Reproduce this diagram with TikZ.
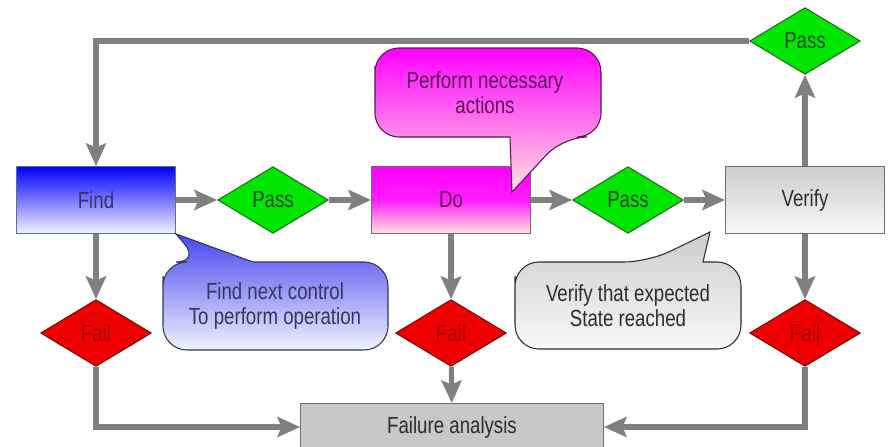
\documentclass[tikz,border=0pt]{standalone}
\usepackage{fontspec}
\setmainfont{Liberation Sans}[FakeStretch=0.8]
\usetikzlibrary{shapes.geometric,arrows.meta}
\definecolor{arrgray}{RGB}{128,128,128}
\definecolor{boxblue}{RGB}{0,0,255}
\definecolor{callblue}{RGB}{70,70,240}
\definecolor{paleblue}{RGB}{242,242,255}
\definecolor{txtblue}{RGB}{50,55,90}
\definecolor{mag}{RGB}{255,0,255}
\definecolor{palepink}{RGB}{255,228,220}
\definecolor{txtmag}{RGB}{90,20,90}
\definecolor{passgreen}{RGB}{0,230,0}
\definecolor{greenline}{RGB}{30,110,30}
\definecolor{txtgreen}{RGB}{20,70,20}
\definecolor{failred}{RGB}{238,0,0}
\definecolor{redline}{RGB}{130,0,0}
\definecolor{txtred}{RGB}{165,0,0}
\definecolor{boxgray}{RGB}{200,200,200}
\definecolor{lightgray2}{RGB}{205,205,205}
\definecolor{palegray}{RGB}{248,248,248}
\definecolor{lineg}{RGB}{110,110,110}
\definecolor{txtgray}{RGB}{45,45,45}
\begin{document}
\begin{tikzpicture}[x=0.75pt,y=-0.75pt,
  lbl/.style={font=\fontsize{17.5pt}{18.75pt}\selectfont, align=center},
  stepbox/.style={draw=lineg, line width=0.8pt, rectangle, minimum width=119pt, minimum height=50pt, inner sep=0pt, lbl},
  passd/.style={diamond, draw=greenline, line width=0.8pt, fill=passgreen, minimum width=83pt, minimum height=50pt, inner sep=0pt, lbl, text=txtgreen},
  faild/.style={diamond, draw=redline, line width=0.8pt, fill=failred, minimum width=83pt, minimum height=50pt, inner sep=0pt, lbl, text=txtred},
  arr/.style={draw=arrgray, line width=3.8pt, -{Stealth[length=17pt,width=15pt,inset=3pt]}},
  callout/.style={line width=0.8pt, rounded corners=18pt}
]
\fill[white] (0,0) rectangle (895,446);
\useasboundingbox (0,0) rectangle (895,446);

% main boxes
\node[stepbox, top color=boxblue, bottom color=paleblue, text=txtblue] (find) at (96,200) {Find};
\node[passd] (pass1) at (273,200) {Pass};
\node[stepbox, top color=mag, bottom color=palepink, middle color=mag!88!palepink, text=txtmag] (do) at (451,200) {Do};
\node[passd] (pass2) at (628,200) {Pass};
\node[stepbox, top color=lightgray2, bottom color=palegray, text=txtgray] (verify) at (805,200) {Verify};
\node[passd] (pass3) at (805,41) {Pass};
\node[faild] (fail1) at (96,333) {Fail};
\node[faild] (fail2) at (451,333) {Fail};
\node[faild] (fail3) at (805,333) {Fail};
\node[draw=lineg, line width=0.8pt, fill=boxgray, minimum width=227pt, minimum height=35pt, inner sep=0pt, lbl, text=txtgray] (fa) at (452,427) {Failure analysis};

% connectors
\draw[arr] (find) -- (pass1);
\draw[arr] (pass1) -- (do);
\draw[arr] (do) -- (pass2);
\draw[arr] (pass2) -- (verify);
\draw[arr] (verify) -- (pass3);
\draw[arr] (pass3.west) -| (find.north);
\draw[arr] (find) -- (fail1);
\draw[arr] (do) -- (fail2);
\draw[arr] (verify) -- (fail3);
\draw[arr] (fail1.south) |- (fa.west);
\draw[arr] (fail2) -- (fa);
\draw[arr] (fail3.south) |- (fa.east);

% callouts
\draw[callout, draw=txtblue, top color=callblue, bottom color=paleblue]
  (163,300) -- (163,262) -- (200,262) [sharp corners] -- (find.south east) -- (253,262) [rounded corners=18pt] -- (388,262) -- (388,350) -- (163,350) -- cycle;
\node[lbl, text=txtblue] (c1) at (275,306) {Find next control\\To perform operation};

\draw[callout, draw=txtmag, top color=mag, middle color=mag, bottom color=palepink]
  (375,90) -- (375,48) -- (601,48) -- (601,137) -- (563,137) [sharp corners] -- (512,192) -- (510,137) [rounded corners=18pt] -- (375,137) -- cycle;
\node[lbl, text=txtmag] (c2) at (485,93) {Perform necessary\\actions};

\draw[callout, draw=txtgray, top color=lightgray2, bottom color=palegray]
  (515,300) -- (515,262) -- (648,262) [sharp corners] -- (710,232) -- (703,262) [rounded corners=18pt] -- (741,262) -- (741,349) -- (515,349) -- cycle;
\node[lbl, text=txtgray] (c3) at (628,306) {Verify that expected\\State reached};
\end{tikzpicture}
\end{document}
